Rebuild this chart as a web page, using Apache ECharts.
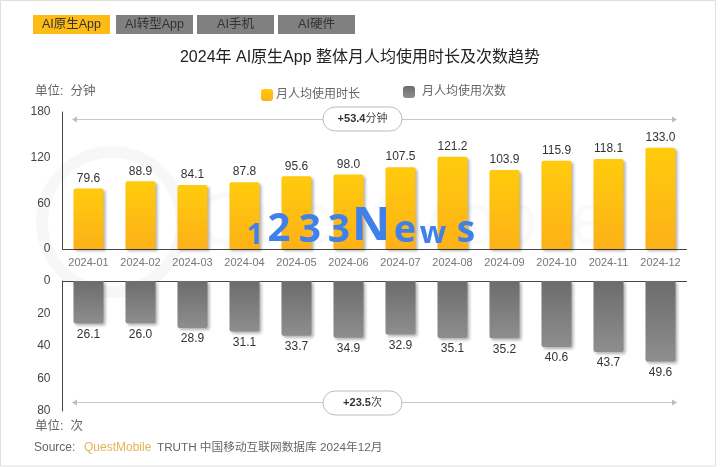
<!doctype html>
<html>
    <head>
        <meta charset="utf-8">
        <title>2024 AI App</title>
        <style>
            html, body { margin: 0; background: #fff; }
            #main { width: 720px; height: 467px; }
        </style>
    </head>
    <body>
        <div id="main"></div>
        <script src="https://cdn.jsdelivr.net/npm/echarts@6/dist/echarts.min.js"></script>
        <script>
            var months = ['2024-01', '2024-02', '2024-03', '2024-04', '2024-05', '2024-06',
                '2024-07', '2024-08', '2024-09', '2024-10', '2024-11', '2024-12'];
            var minutes = [79.6, 88.9, 84.1, 87.8, 95.6, 98.0, 107.5, 121.2, 103.9, 115.9, 118.1, 133.0];
            var times = [26.1, 26.0, 28.9, 31.1, 33.7, 34.9, 32.9, 35.1, 35.2, 40.6, 43.7, 49.6];
            var tabs = ['AI原生App', 'AI转型App', 'AI手机', 'AI硬件'];
            var stampChars = ['1', '2', '3', '3', 'N', 'e', 'w', 's'];

            var FONT = '"Liberation Sans", "Noto Sans CJK SC", sans-serif';
            var chart = echarts.init(document.getElementById('main'), null, { renderer: 'canvas' });

            function gradient(from, to) {
                return new echarts.graphic.LinearGradient(0, 0, 0, 1, [
                    { offset: 0, color: from },
                    { offset: 1, color: to }
                ]);
            }

            function barStyle(color, radius) {
                return {
                    color: color,
                    borderRadius: radius,
                    shadowColor: 'rgba(0,0,0,0.3)',
                    shadowBlur: 3,
                    shadowOffsetX: 2,
                    shadowOffsetY: 2
                };
            }

            var tabItems = tabs.map(function (name, i) {
                return {
                    type: 'rect',
                    shape: { x: [33, 116, 197, 278][i], y: 15, width: 77, height: 19 },
                    style: { fill: i === 0 ? '#fdbb14' : '#808080' },
                    textContent: {
                        style: { text: name, font: '12.5px ' + FONT, fill: '#333' }
                    },
                    textConfig: { position: 'inside' }
                };
            });

            function arrow(y, x1, x2, head) {
                return [{
                    type: 'line',
                    shape: { x1: x1, y1: y, x2: x2, y2: y },
                    style: { stroke: '#c8c8c8', lineWidth: 1 }
                }, {
                    type: 'polygon',
                    shape: {
                        points: head > 0
                            ? [[x2 + 5, y], [x2, y - 3], [x2, y + 3]]
                            : [[x1 - 5, y], [x1, y - 3], [x1, y + 3]]
                    },
                    style: { fill: '#bdbdbd' }
                }];
            }

            function pill(y, bold, unit) {
                return {
                    type: 'rect',
                    shape: { x: 323, y: y - 12, width: 79, height: 24, r: 12 },
                    style: { fill: '#fff', stroke: '#bdbdbd', lineWidth: 1 },
                    textContent: {
                        style: {
                            text: '{b|' + bold + '}{u|' + unit + '}',
                            rich: {
                                b: { font: 'bold 11px ' + FONT, fill: '#333' },
                                u: { font: '11px ' + FONT, fill: '#444' }
                            }
                        }
                    },
                    textConfig: { position: 'inside' }
                };
            }

            function label(x, y, text, size, color, align) {
                return {
                    type: 'text',
                    x: x,
                    y: y,
                    style: {
                        text: text,
                        font: size + 'px ' + FONT,
                        fill: color,
                        textAlign: align || 'left',
                        textVerticalAlign: 'middle'
                    }
                };
            }

            // blue overlay stamp, each glyph placed on its own like the picture
            var stampX = [255, 279, 310, 339, 371, 405, 433, 466];
            var stampSize = [29, 40, 39, 39, 47, 38, 31, 37];
            var stampItems = stampChars.map(function (ch, i) {
                return {
                    type: 'text',
                    z: 100,
                    x: stampX[i],
                    y: 250,
                    style: {
                        text: ch,
                        font: 'bold ' + stampSize[i] + 'px "Open Sans", sans-serif',
                        fill: '#3f80ea',
                        textAlign: 'center',
                        textVerticalAlign: 'bottom',
                        lineHeight: stampSize[i]
                    }
                };
            });

            var graphics = [
                // page frame
                {
                    type: 'rect',
                    silent: true,
                    shape: { x: 0.5, y: 0.5, width: 715, height: 465.5 },
                    style: { fill: 'none', stroke: '#dedede', lineWidth: 1 }
                },
                // faint watermark behind the bars
                {
                    type: 'ring',
                    z: -1,
                    shape: { cx: 112, cy: 222, r: 76, r0: 64 },
                    style: { fill: 'rgba(0,0,0,0.03)' }
                },
                {
                    type: 'text',
                    z: -1,
                    x: 196,
                    y: 224,
                    style: {
                        text: 'QuestMobile',
                        font: '74px ' + FONT,
                        fill: 'rgba(0,0,0,0.02)',
                        textVerticalAlign: 'middle'
                    }
                }
            ].concat(tabItems).concat(arrow(119.5, 77, 323, -1)).concat(arrow(119.5, 402, 672, 1))
                .concat(arrow(402.5, 77, 323, -1)).concat(arrow(402.5, 402, 672, 1))
                .concat([
                    pill(119, '+53.4', '分钟'),
                    pill(403, '+23.5', '次'),
                    label(360, 58, '2024年 AI原生App 整体月人均使用时长及次数趋势', 16, '#222', 'center'),
                    label(35, 92, '单位:  分钟', 12.5, '#666'),
                    label(35, 427, '单位:  次', 12.5, '#666'),
                    label(34, 448, 'Source:', 12, '#666'),
                    label(84, 448, 'QuestMobile', 12, '#e3b455'),
                    label(157, 448, 'TRUTH 中国移动互联网数据库 2024年12月', 11.7, '#666')
                ]).concat(stampItems);

            chart.setOption({
                animation: false,
                backgroundColor: '#fff',
                textStyle: { fontFamily: FONT },
                legend: [{
                    left: 256,
                    top: 84,
                    itemWidth: 12,
                    itemHeight: 12,
                    textStyle: { fontSize: 12, color: '#666', fontFamily: FONT, padding: [0, 0, 0, -2] },
                    data: ['月人均使用时长']
                }, {
                    left: 398,
                    top: 81,
                    itemWidth: 12,
                    itemHeight: 12,
                    textStyle: { fontSize: 12, color: '#666', fontFamily: FONT, padding: [0, 0, 0, 2] },
                    data: ['月人均使用次数']
                }],
                grid: [
                    { left: 62.5, width: 624, top: 112, height: 137 },
                    { left: 62.5, width: 624, top: 281, height: 130 }
                ],
                xAxis: [{
                    type: 'category',
                    gridIndex: 0,
                    data: months,
                    axisLine: { lineStyle: { color: '#444', width: 1 } },
                    axisTick: { show: false },
                    axisLabel: { color: '#777', fontSize: 11, margin: 8, interval: 0 }
                }, {
                    type: 'category',
                    gridIndex: 1,
                    data: months,
                    position: 'top',
                    axisLine: { lineStyle: { color: '#444', width: 1 } },
                    axisTick: { show: false },
                    axisLabel: { show: false }
                }],
                yAxis: [{
                    type: 'value',
                    gridIndex: 0,
                    min: 0,
                    max: 180,
                    interval: 60,
                    splitLine: { show: false },
                    axisLine: { show: true, lineStyle: { color: '#444', width: 1 } },
                    axisTick: { show: false },
                    axisLabel: { color: '#444', fontSize: 12, margin: 12 }
                }, {
                    type: 'value',
                    gridIndex: 1,
                    inverse: true,
                    min: 0,
                    max: 80,
                    interval: 20,
                    splitLine: { show: false },
                    axisLine: { show: true, lineStyle: { color: '#444', width: 1 } },
                    axisTick: { show: false },
                    axisLabel: { color: '#444', fontSize: 12, margin: 12 }
                }],
                series: [{
                    name: '月人均使用时长',
                    type: 'bar',
                    xAxisIndex: 0,
                    yAxisIndex: 0,
                    data: minutes,
                    barWidth: 30,
                    itemStyle: barStyle(gradient('#ffcb0c', '#fdb118'), [2, 2, 0, 0]),
                    label: {
                        show: true,
                        position: 'top',
                        distance: 4,
                        color: '#333',
                        fontSize: 12,
                        formatter: function (p) { return p.value.toFixed(1); }
                    }
                }, {
                    name: '月人均使用次数',
                    type: 'bar',
                    xAxisIndex: 1,
                    yAxisIndex: 1,
                    data: times,
                    barWidth: 30,
                    itemStyle: barStyle(gradient('#6c6c6c', '#8e8e8e'), [0, 0, 2, 2]),
                    label: {
                        show: true,
                        position: 'bottom',
                        distance: 5,
                        color: '#333',
                        fontSize: 12,
                        formatter: function (p) { return p.value.toFixed(1); }
                    }
                }],
                graphic: { elements: graphics }
            });

            window.addEventListener('resize', function () {
                chart.resize();
            });
        </script>
    </body>
</html>
